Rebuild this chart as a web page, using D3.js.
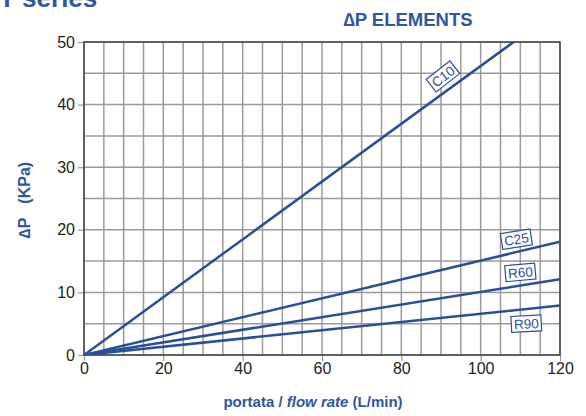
<!DOCTYPE html>
<html><head><meta charset="utf-8">
<script src="https://cdn.jsdelivr.net/npm/d3@7"></script>
<style>body{margin:0;background:#fff}svg{display:block}text{font-family:"Liberation Sans",Arial,sans-serif}</style>
</head><body><svg id="c" width="586" height="416"></svg>
<script>
const xTicks = [0, 20, 40, 60, 80, 100, 120];
const yTicks = [0, 10, 20, 30, 40, 50];
const gridStep = 5;
const seriesNames = ["C10", "C25", "R60", "R90"];
const seriesX = [[0, 120], [0, 120], [0, 120], [0, 120]];
const seriesY = [[0, 55.4], [0, 18.1], [0, 12.1], [0, 7.9]];
const labelPos = [[90.5, 44.5], [109, 18.5], [110, 13.2], [111.5, 5]];
const labelAngle = [-38, -9, -5, -3];

const blue = "#2a4f95", tblue = "#2e57a0";
const svg = d3.select("#c");
const W = 586, H = 416;
const m = {l: 84, r: 26, t: 42, b: 61};
const x = d3.scaleLinear().domain([0, 120]).range([m.l, W - m.r]);
const y = d3.scaleLinear().domain([0, 50]).range([H - m.b, m.t]);

svg.append("text").attr("x", -1).attr("y", 7).attr("font-size", 26).attr("font-weight", "bold").attr("fill", tblue).text("T series");
svg.append("text").attr("x", 408).attr("y", 26).attr("text-anchor", "middle").attr("font-size", 18.5).attr("font-weight", "bold").attr("fill", tblue).text("∆P ELEMENTS");

const g = svg.append("g");
const gx = d3.range(0, 120 + 0.1, gridStep), gy = d3.range(0, 50 + 0.1, gridStep);
g.selectAll(".vx").data(gx).join("line").attr("x1", d => x(d)).attr("x2", d => x(d)).attr("y1", y(0)).attr("y2", y(50)).attr("stroke", "#9a9a9a").attr("stroke-width", 1.5);
g.selectAll(".hy").data(gy).join("line").attr("y1", d => y(d)).attr("y2", d => y(d)).attr("x1", x(0)).attr("x2", x(120)).attr("stroke", "#9a9a9a").attr("stroke-width", 1.5);

const xa = svg.append("g").attr("transform", `translate(0,${y(0)})`).call(d3.axisBottom(x).tickValues(xTicks).tickSize(6).tickPadding(2));
const ya = svg.append("g").attr("transform", `translate(${x(0)},0)`).call(d3.axisLeft(y).tickValues(yTicks).tickSize(6).tickPadding(3));
[xa, ya].forEach(a => {
  a.select(".domain").remove();
  a.selectAll("line").attr("stroke", "#999").attr("stroke-width", 1.2);
  a.selectAll("text").attr("font-size", 16).attr("fill", "#222").attr("font-family", "Liberation Sans, Arial, sans-serif");
});
svg.append("rect").attr("x", x(0)).attr("y", y(50)).attr("width", x(120) - x(0)).attr("height", y(0) - y(50)).attr("fill", "none").attr("stroke", "#444").attr("stroke-width", 1.5);

svg.append("clipPath").attr("id", "cp").append("rect").attr("x", x(0)).attr("y", y(50)).attr("width", x(120) - x(0)).attr("height", y(0) - y(50));
const line = d3.line().x(d => x(d[0])).y(d => y(d[1]));
seriesNames.forEach((n, i) => {
  const pts = seriesX[i].map((v, j) => [v, seriesY[i][j]]);
  svg.append("path").attr("d", line(pts)).attr("fill", "none").attr("stroke", blue).attr("stroke-width", 2.5).attr("clip-path", "url(#cp)");
});
seriesNames.forEach((n, i) => {
  const lg = svg.append("g").attr("transform", `translate(${x(labelPos[i][0])},${y(labelPos[i][1])}) rotate(${labelAngle[i]})`);
  lg.append("rect").attr("x", -15).attr("y", -8).attr("width", 30).attr("height", 16).attr("fill", "#fff").attr("stroke", blue).attr("stroke-width", 1.2);
  lg.append("text").attr("text-anchor", "middle").attr("y", 5).attr("font-size", 13.5).attr("fill", blue).text(n);
});

const yt = svg.append("text").attr("transform", "translate(30,200) rotate(-90)").attr("text-anchor", "middle").attr("font-size", 16).attr("font-weight", "bold").attr("fill", tblue);
yt.append("tspan").text("∆P");
yt.append("tspan").attr("dx", 14).text("(KPa)");
const xt = svg.append("text").attr("x", 313).attr("y", 407).attr("text-anchor", "middle").attr("font-size", 15).attr("font-weight", "bold").attr("fill", tblue);
xt.append("tspan").text("portata / ");
xt.append("tspan").attr("font-style", "italic").text("flow rate");
xt.append("tspan").text(" (L/min)");
</script></body></html>
